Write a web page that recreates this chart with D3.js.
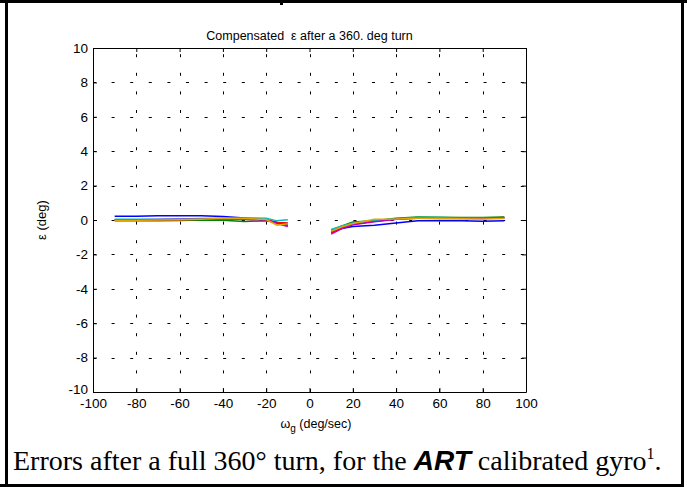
<!DOCTYPE html>
<html>
<head>
<meta charset="utf-8">
<script src="https://cdn.jsdelivr.net/npm/d3@7"></script>
<style>
  body { margin: 0; background: #fff; }
  svg { display: block; }
  .axis path, .axis line { stroke: #000; stroke-width: 1; }
  .axis text { font-family: Arial, "Liberation Sans", sans-serif; font-size: 13.5px; fill: #000; }
</style>
</head>
<body>
<div id="vis"></div>
<script>
const FRAME_WIDTH = 687;
const FRAME_HEIGHT = 487;
const PLOT = {left: 93, right: 526, top: 48, bottom: 392};

// data
const xTicks = [-100, -80, -60, -40, -20, 0, 20, 40, 60, 80, 100];
const yTicks = [-10, -8, -6, -4, -2, 0, 2, 4, 6, 8, 10];
const xNeg = [-90, -80, -70, -60, -50, -40, -30, -20, -15, -10];
const xPos = [10, 15, 20, 30, 40, 50, 60, 70, 80, 90];

const seriesNames = ["blue", "green", "red", "cyan", "magenta", "yellow"];
const seriesColors = ["#0000ff", "#008000", "#ff0000", "#00bfbf", "#bf00bf", "#e0a800"];

const blueNeg    = [0.22, 0.22, 0.24, 0.25, 0.24, 0.20, 0.12, 0.00, -0.15, -0.30];
const greenNeg   = [-0.05, -0.05, -0.05, -0.03, 0.00, -0.02, -0.08, -0.05, -0.15, -0.20];
const redNeg     = [0.00, 0.00, 0.01, 0.02, 0.04, 0.05, 0.05, 0.02, -0.15, -0.18];
const cyanNeg    = [0.05, 0.05, 0.05, 0.06, 0.08, 0.10, 0.12, 0.10, -0.05, 0.02];
const magentaNeg = [0.02, 0.02, 0.03, 0.04, 0.05, 0.06, 0.04, 0.00, -0.20, -0.38];
const yellowNeg  = [-0.02, -0.02, 0.00, 0.02, 0.05, 0.10, 0.08, 0.03, -0.30, -0.22];

const bluePos    = [-0.70, -0.50, -0.38, -0.30, -0.18, -0.05, -0.03, -0.04, -0.07, -0.05];
const greenPos   = [-0.60, -0.35, -0.12, -0.05, 0.10, 0.18, 0.16, 0.14, 0.15, 0.18];
const redPos     = [-0.75, -0.45, -0.25, -0.08, 0.05, 0.12, 0.12, 0.10, 0.10, 0.15];
const cyanPos    = [-0.55, -0.35, -0.18, -0.05, 0.08, 0.15, 0.14, 0.12, 0.12, 0.12];
const magentaPos = [-0.82, -0.50, -0.28, -0.10, 0.04, 0.10, 0.10, 0.08, 0.08, 0.12];
const yellowPos  = [-0.65, -0.40, -0.20, 0.05, 0.06, 0.10, 0.10, 0.07, 0.06, 0.08];

const negSeries = [blueNeg, greenNeg, redNeg, cyanNeg, magentaNeg, yellowNeg];
const posSeries = [bluePos, greenPos, redPos, cyanPos, magentaPos, yellowPos];

const FRAME1 = d3.select("#vis")
  .append("svg")
    .attr("width", FRAME_WIDTH)
    .attr("height", FRAME_HEIGHT);

const X_SCALE = d3.scaleLinear().domain([-100, 100]).range([PLOT.left, PLOT.right]);
const Y_SCALE = d3.scaleLinear().domain([-10, 10]).range([PLOT.bottom, PLOT.top]);

// table cell borders around the figure
FRAME1.append("line").attr("x1", 0).attr("x2", FRAME_WIDTH).attr("y1", 1.5).attr("y2", 1.5)
  .attr("stroke", "#000").attr("stroke-width", 3);
FRAME1.append("line").attr("x1", 0).attr("x2", 684).attr("y1", 485.5).attr("y2", 485.5)
  .attr("stroke", "#000").attr("stroke-width", 3);
FRAME1.append("line").attr("x1", 6.5).attr("x2", 6.5).attr("y1", 0).attr("y2", FRAME_HEIGHT)
  .attr("stroke", "#000").attr("stroke-width", 3);
FRAME1.append("line").attr("x1", 682.5).attr("x2", 682.5).attr("y1", 0).attr("y2", FRAME_HEIGHT)
  .attr("stroke", "#000").attr("stroke-width", 3);
FRAME1.append("line").attr("x1", 281.5).attr("x2", 281.5).attr("y1", 0).attr("y2", 5)
  .attr("stroke", "#000").attr("stroke-width", 3);

// dotted grid
const grid = FRAME1.append("g").attr("stroke", "#000").attr("stroke-width", 1)
  .attr("stroke-dasharray", "3,15.6");
grid.selectAll(".gx")
  .data(xTicks.slice(1, -1))
  .enter()
  .append("line")
    .attr("x1", (d) => Math.round(X_SCALE(d)) + 0.5)
    .attr("x2", (d) => Math.round(X_SCALE(d)) + 0.5)
    .attr("y1", PLOT.bottom)
    .attr("y2", PLOT.top);
grid.selectAll(".gy")
  .data(yTicks.slice(1, -1))
  .enter()
  .append("line")
    .attr("y1", (d) => Math.round(Y_SCALE(d)) + 0.5)
    .attr("y2", (d) => Math.round(Y_SCALE(d)) + 0.5)
    .attr("x1", PLOT.left)
    .attr("x2", PLOT.right);

// data lines
const line = d3.line()
  .x((d) => X_SCALE(d[0]))
  .y((d) => Y_SCALE(d[1]));

seriesNames.forEach((name, i) => {
  [[xNeg, negSeries[i]], [xPos, posSeries[i]]].forEach(([xs, ys]) => {
    FRAME1.append("path")
      .datum(xs.map((x, j) => [x, ys[j]]))
      .attr("fill", "none")
      .attr("stroke", seriesColors[i])
      .attr("stroke-width", 1.5)
      .attr("d", line);
  });
});

// axes, ticks pointing inward like matlab, plain hyphen for minus
const fmt = (d) => String(d);
FRAME1.append("g")
  .attr("class", "axis")
  .attr("transform", "translate(0," + PLOT.bottom + ")")
  .call(d3.axisBottom(X_SCALE).tickValues(xTicks).tickFormat(fmt)
    .tickSizeInner(-4).tickSizeOuter(0).tickPadding(6));
FRAME1.append("g")
  .attr("class", "axis")
  .attr("transform", "translate(0," + PLOT.top + ")")
  .call(d3.axisTop(X_SCALE).tickValues(xTicks).tickSizeInner(-4).tickSizeOuter(0).tickFormat(""));
FRAME1.append("g")
  .attr("class", "axis")
  .attr("transform", "translate(" + PLOT.left + ",0)")
  .call(d3.axisLeft(Y_SCALE).tickValues(yTicks).tickFormat(fmt)
    .tickSizeInner(-4).tickSizeOuter(0).tickPadding(5));
FRAME1.append("g")
  .attr("class", "axis")
  .attr("transform", "translate(" + PLOT.right + ",0)")
  .call(d3.axisRight(Y_SCALE).tickValues(yTicks).tickSizeInner(-4).tickSizeOuter(0).tickFormat(""));

// the -10 label sits a little higher so it clears the -100 below it
FRAME1.selectAll(".axis text").filter((d) => d === -10).attr("dy", "0.1em");

// title and axis labels
FRAME1.append("text")
  .attr("x", (PLOT.left + PLOT.right) / 2)
  .attr("y", 40)
  .attr("text-anchor", "middle")
  .attr("font-family", "Arial, 'Liberation Sans', sans-serif")
  .attr("font-size", 12.5)
  .style("white-space", "pre")
  .text("Compensated  \u03b5 after a 360. deg turn");

const xLabel = FRAME1.append("text")
  .attr("x", 316)
  .attr("y", 428)
  .attr("text-anchor", "middle")
  .attr("font-family", "Arial, 'Liberation Sans', sans-serif")
  .attr("font-size", 12.5);
xLabel.append("tspan").text("\u03c9");
xLabel.append("tspan").attr("dy", 4).attr("font-size", 10).text("g");
xLabel.append("tspan").attr("dy", -4).text(" (deg/sec)");

FRAME1.append("text")
  .attr("transform", "translate(46," + Y_SCALE(0) + ") rotate(-90)")
  .attr("text-anchor", "middle")
  .attr("font-family", "Arial, 'Liberation Sans', sans-serif")
  .attr("font-size", 13)
  .text("\u03b5 (deg)");

// caption under the figure
const caption = FRAME1.append("text")
  .attr("x", 13)
  .attr("y", 470)
  .attr("font-family", "'Liberation Serif', 'Times New Roman', serif")
  .attr("font-size", 28);
caption.append("tspan").text("Errors after a full 360\u00b0 turn, for the ");
caption.append("tspan")
  .attr("font-family", "'Liberation Sans', Arial, sans-serif")
  .attr("font-weight", "bold")
  .attr("font-style", "italic")
  .text("ART");
caption.append("tspan").text(" calibrated gyro");
caption.append("tspan").attr("dy", -11).attr("font-size", 16).text("1");
caption.append("tspan").attr("dy", 11).text(".");
</script>
</body>
</html>
